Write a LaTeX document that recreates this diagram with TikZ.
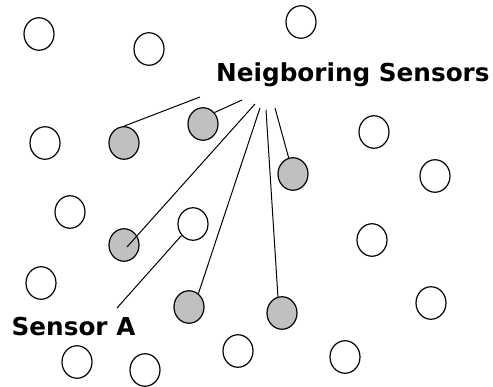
\documentclass[tikz,border=0pt]{standalone}
\usepackage{fontspec}
\setsansfont{DejaVu Sans}
\usetikzlibrary{shapes.geometric}
\definecolor{sensorgray}{RGB}{192,192,192}

\begin{document}
\begin{tikzpicture}[x=1pt,y=-1pt,
    sensor/.style={ellipse,draw,line width=1.2pt,minimum width=30pt,minimum height=32.5pt,inner sep=0pt,fill=white},
    neighbor/.style={sensor,fill=sensorgray},
    link/.style={line width=1pt},
    lbl/.style={anchor=base west,inner sep=0pt,font=\sffamily\bfseries\fontsize{24.7}{30}\selectfont}]

  \useasboundingbox (0,0) rectangle (493,387);

  % plain sensors
  \foreach \n/\x/\y in {w1/39/34, w2/149/49, w3/301/22, w4/45/143, w5/374/132,
      w6/435/176, w7/70/212, w8/372/240, w9/41/283, w10/431/303,
      w11/77/362, w12/145/370, w13/238/351, w14/345/357}
    \node[sensor] (\n) at (\x,\y) {};
  \node[sensor] (sa) at (193,224) {}; % sensor A

  % neighbours of A
  \foreach \n/\x/\y in {g1/124/143, g2/203/124, g3/124/245, g4/189/307, g5/282/313, g6/293/174}
    \node[neighbor] (\n) at (\x,\y) {};

  \node[lbl] (nbr) at (216,82) {Neigboring Sensors};
  \node[lbl] (lblA) at (11.5,336) {Sensor A};

  % free ends of the pointer lines, under the labels
  \coordinate (t1) at (200,97);
  \coordinate (t2) at (242,100);
  \coordinate (t3) at (255,104);
  \coordinate (t4) at (260,108);
  \coordinate (t5) at (266,110);
  \coordinate (t6) at (275,108);
  \coordinate (ta) at (117,308);

  \draw[link] (t1) -- (g1.north);
  \draw[link] (t2) -- (g2.45);
  \draw[link] (t3) -- ([shift={(3pt,-2pt)}]g3.center);
  \draw[link] (t4) -- (g4.55);
  \draw[link] (t5) -- (g5.104);
  \draw[link] (t6) -- (g6.105);
  \draw[link] (ta) -- (sa.225);

\end{tikzpicture}
\end{document}
